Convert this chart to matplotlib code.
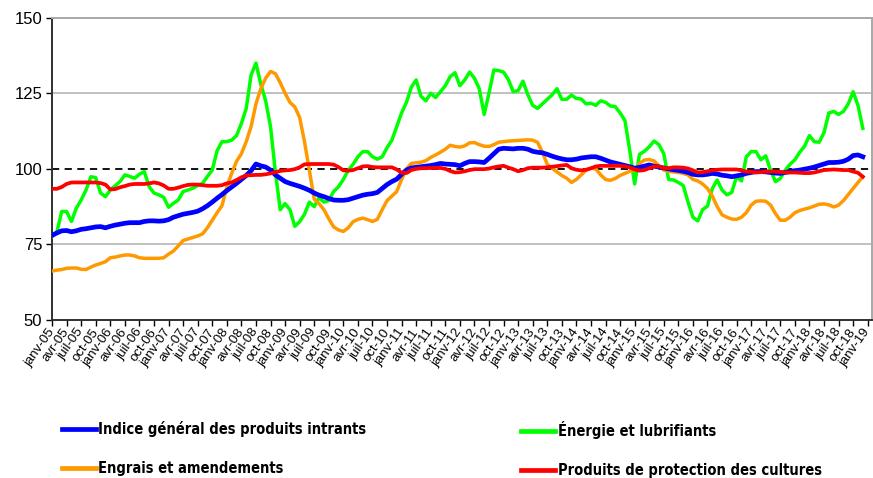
import matplotlib
matplotlib.use("Agg")
import matplotlib.pyplot as plt
from matplotlib.lines import Line2D

# =================== data (monthly, janv-05 .. déc-18, base 100) ===================
indice_general = [
    78, 78.8, 79.5, 79.6, 79.2, 79.5, 80, 80.2, 80.5, 80.8, 80.9, 80.5,
    81, 81.4, 81.7, 82, 82.2, 82.2, 82.2, 82.6, 82.8, 82.8, 82.7, 82.8,
    83.2, 84, 84.5, 85, 85.3, 85.6, 86, 86.8, 87.8, 89, 90.3, 91.5,
    92.8, 94, 95.2, 96.5, 97.8, 99.4, 101.6, 101, 100.6, 99.6, 98, 96.9,
    95.8, 95.2, 94.7, 94.2, 93.6, 92.9, 92, 91.3, 90.8, 90.2, 89.7, 89.6,
    89.6, 89.8, 90.3, 90.8, 91.3, 91.6, 91.8, 92.2, 93.5, 94.8, 95.8, 96.6,
    98.2, 99.6, 100.3, 100.5, 100.7, 100.9, 101.1, 101.4, 101.8, 101.6, 101.5, 101.4,
    101, 101.8, 102.4, 102.4, 102.3, 102.1, 103.5, 105, 106.5, 106.8, 106.7, 106.6,
    106.8, 106.8, 106.5, 105.8, 105.5, 105.3, 104.8, 104.2, 103.7, 103.3, 103, 103,
    103.2, 103.6, 103.8, 104, 104, 103.5, 102.9, 102.3, 101.9, 101.5, 101.1, 100.7,
    100.2, 100.5, 100.9, 101.3, 100.9, 100.6, 100.3, 100, 99.7, 99.5, 99.2, 98.8,
    98.2, 98, 98, 98.2, 98.5, 98.3, 97.9, 97.7, 97.4, 97.7, 98, 98.5,
    98.8, 99.1, 99.1, 99, 98.8, 98.6, 98.5, 98.8, 99.1, 99.4, 99.6, 99.9,
    100.2, 100.6, 101.1, 101.6, 102.1, 102.1, 102.2, 102.5, 103.2, 104.4, 104.6, 104,
]

energie = [
    77.6, 79.1, 85.9, 85.9, 82.6, 87, 89.7, 93, 97.4, 97.1, 92, 90.8,
    93, 94.4, 95.8, 98, 97.5, 96.9, 98.2, 99.1, 94.1, 92, 91.4, 90.6,
    87.3, 88.6, 89.7, 92.5, 93, 93.6, 94.5, 95.2, 97.5, 99.6, 106, 109,
    109, 109.5, 111, 115, 120, 131, 135, 128, 122.5, 114, 99, 86.5,
    88.5, 86.5, 81, 82.5, 85, 89, 87.5, 90.5, 89, 89.5, 92.5, 94.1,
    96.5, 99.5, 101.5, 104, 105.7, 105.7, 104, 103.2, 104, 107, 109.5, 114,
    118.5, 122, 127, 129.4, 124, 122.5, 125, 123.6, 125.5, 127.5, 130.5, 131.8,
    127.5, 129.4, 132, 130, 126.5, 118, 125, 132.7, 132.5, 132, 129.5, 125.5,
    125.9, 129, 124.5, 121, 120, 121.5, 123, 124.5, 126.5, 123, 123, 124.4,
    123.3, 123.1, 121.5, 121.7, 121, 122.5, 122, 120.8, 120.6, 118.5, 116, 106,
    95, 104.8, 105.8, 107.3, 109.2, 108, 105, 96.5, 96.3, 95.5, 94.5, 89,
    84, 82.8, 86.5, 87.7, 93.5, 96.3, 93, 91.4, 92.2, 97.5, 96, 104,
    105.7, 105.7, 103, 104.3, 99.5, 95.8, 96.8, 99.5, 101.5, 103, 105.5, 107.5,
    111, 109, 108.8, 112, 118.5, 119, 118, 119, 121.5, 125.5, 121, 113.4,
]

engrais = [
    66.2, 66.5, 66.7, 67.1, 67.2, 67.2, 66.8, 66.7, 67.5, 68.2, 68.7, 69.3,
    70.6, 70.8, 71.2, 71.5, 71.5, 71.2, 70.6, 70.4, 70.4, 70.4, 70.4, 70.6,
    71.8, 72.8, 74.5, 76.3, 76.8, 77.3, 77.8, 78.5, 80.5, 83, 85.5, 87.8,
    94, 98.5, 102.5, 105, 109, 114, 121.5, 126.5, 130, 132.2, 131.5, 128.5,
    125, 122, 120.5, 117, 109, 99.6, 90, 88.5, 86.5, 83.5, 80.8, 79.8,
    79.3, 80.5, 82.5, 83.3, 83.7, 83.2, 82.6, 83.3, 86.5, 89.5, 91, 92.5,
    96.5, 100, 101.8, 102, 102.2, 102.7, 103.8, 104.6, 105.5, 106.5, 107.8, 107.4,
    107.2, 107.6, 108.6, 108.7, 108, 107.5, 107.4, 108, 108.8, 109, 109.2, 109.3,
    109.4, 109.5, 109.6, 109.5, 108.8, 105.5, 101.5, 100.2, 99, 97.8, 96.9, 95.5,
    96.5, 98, 99.6, 100.2, 100, 98, 96.5, 96.2, 96.8, 97.8, 98.5, 99.2,
    99.6, 101.8, 102.9, 103.1, 102.6, 101, 99.6, 99.2, 99, 98.8, 98.5, 98,
    96.5, 96, 95, 93.5, 91, 87.5, 84.8, 84, 83.4, 83.3, 84, 85.5,
    88, 89.3, 89.4, 89.3, 88, 85.2, 83, 83, 84, 85.5, 86.2, 86.7,
    87.1, 87.7, 88.3, 88.4, 88.1, 87.4, 88, 89.5, 91.5, 93.5, 95.5, 97.4,
]

protection = [
    93.4, 93.4, 94, 95, 95.5, 95.5, 95.5, 95.5, 95.5, 95.5, 95.3, 94.8,
    93.2, 93.3, 93.9, 94.3, 94.8, 95, 95, 95, 95.2, 95.5, 95.2, 94.5,
    93.4, 93.4, 93.8, 94.3, 94.7, 94.8, 94.8, 94.6, 94.4, 94.4, 94.4, 94.6,
    95.2, 95.5, 96.3, 97.2, 97.8, 97.9, 98, 98, 98.2, 98.5, 98.9, 99.3,
    99.5, 99.6, 99.9, 100.5, 101.5, 101.6, 101.6, 101.6, 101.6, 101.6, 101.4, 100.6,
    99.5, 99.4, 99.6, 100.2, 100.8, 100.9, 100.6, 100.5, 100.5, 100.5, 100.5, 99.8,
    98.7, 98.6, 99.6, 100, 100.2, 100.2, 100.3, 100.3, 100.3, 100, 99.3, 98.8,
    98.9, 99.2, 99.6, 99.9, 99.9, 99.9, 100.1, 100.5, 100.8, 101, 100.4, 99.9,
    99.2, 99.6, 100.2, 100.4, 100.4, 100.4, 100.5, 100.7, 100.9, 101.1, 101.3, 100.2,
    99.7, 99.5, 99.7, 100.2, 100.8, 101, 101, 101, 101, 101, 100.8, 100.5,
    99.8, 99.4, 99.6, 100.2, 100.8, 100.8, 100.3, 100.2, 100.5, 100.5, 100.4, 100.1,
    99.5, 98.8, 98.9, 99.2, 99.5, 99.7, 99.8, 99.8, 99.8, 99.8, 99.5, 99.1,
    99, 98.8, 98.9, 99.1, 99.1, 99.1, 99, 98.8, 98.8, 98.8, 98.7, 98.6,
    98.6, 98.8, 99.2, 99.6, 99.7, 99.8, 99.7, 99.6, 99.6, 99.1, 98.7, 97.4,
]

series_labels = [
    "Indice général des produits intrants",
    "Engrais et amendements",
    "Énergie et lubrifiants",
    "Produits de protection des cultures",
]
months_fr = ["janv", "avr", "juil", "oct"]
years = list(range(5, 20))
tick_labels = [f"{m}-{y:02d}" for y in years for m in months_fr][:57]

# =================== figure ===================
plt.rcParams["font.family"] = ["Liberation Sans", "DejaVu Sans"]
fig = plt.figure(figsize=(8.73, 4.78), dpi=100)
ax = fig.add_axes([0.0596, 0.3305, 0.9396, 0.6325])

x = list(range(len(indice_general)))
ax.plot(x, energie, color="#00ff00", lw=2.5, zorder=3, solid_joinstyle="round")
ax.plot(x, engrais, color="#ff9900", lw=2.5, zorder=3, solid_joinstyle="round")
ax.plot(x, indice_general, color="#0000ff", lw=3.4, zorder=4, solid_joinstyle="round")
ax.plot(x, protection, color="#ff0000", lw=2.7, zorder=5, solid_joinstyle="round")
ax.axhline(100, color="black", lw=1.3, ls=(0, (4, 3)), zorder=2)

ax.set_ylim(50, 150)
ax.set_yticks([50, 75, 100, 125, 150])
ax.set_xlim(0, 168.95)
ax.set_xticks(range(0, 169, 3))
ax.set_xticklabels(tick_labels, rotation=55, ha="right", va="center",
                   rotation_mode="anchor", fontsize=9.5)
ax.tick_params(axis="x", length=4, width=1, pad=3)
ax.tick_params(axis="y", length=4, width=1, labelsize=12, pad=3)

for v in [75, 125]:
    ax.axhline(v, color="#c0c0c0", lw=1.4, zorder=1)

for s in ["top", "right"]:
    ax.spines[s].set_color("#a8a8a8")
    ax.spines[s].set_linewidth(1.4)
for s in ["left", "bottom"]:
    ax.spines[s].set_color("#303030")
    ax.spines[s].set_linewidth(1.4)

# =================== legend ===================
colors = ["#0000ff", "#ff9900", "#00ff00", "#ff0000"]
handles = [Line2D([], [], color=c, lw=3.4) for c in colors]
leg_font = {"family": "DejaVu Sans", "stretch": "condensed",
            "weight": "bold", "size": 10.5}
leg_kw = dict(frameon=False, handlelength=2.3, handletextpad=0.2,
              labelspacing=1.7, prop=leg_font, borderaxespad=0, borderpad=0)
leg1 = fig.legend(handles[:2], series_labels[:2], loc="upper left",
                  bbox_to_anchor=(0.071, 0.12), **leg_kw)
leg2 = fig.legend(handles[2:], series_labels[2:], loc="upper left",
                  bbox_to_anchor=(0.597, 0.12), **leg_kw)

fig.savefig("out.png", dpi=100)
plt.close(fig)
